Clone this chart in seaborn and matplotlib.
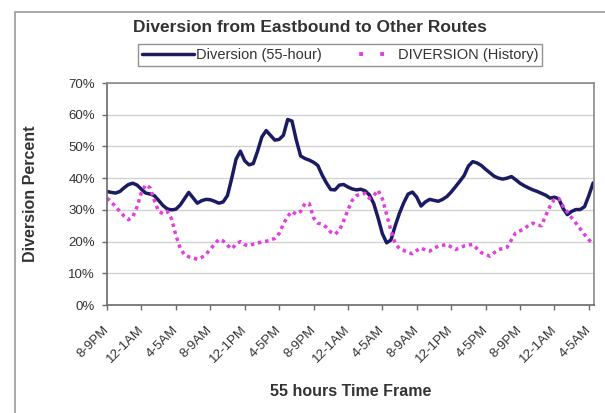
import numpy as np
import pandas as pd
import seaborn as sns
import matplotlib
matplotlib.use("Agg")
import matplotlib.pyplot as plt
from matplotlib.patches import Rectangle
from matplotlib.ticker import FuncFormatter
from matplotlib.transforms import ScaledTranslation

# Half-hourly diversion percentages over the 55-hour window (starting 8-9PM)
diversion_55h = [
    35.8, 35.5, 35.3, 35.8, 37.0, 38.0, 38.4, 37.8, 36.5, 35.3,
    35.0, 34.5, 33.0, 31.4, 30.3, 30.0, 30.2, 31.5, 33.5, 35.5,
    33.8, 32.1, 32.9, 33.3, 33.2, 32.7, 32.1, 32.5, 34.5, 40.0,
    46.0, 48.5, 45.5, 44.2, 44.6, 48.5, 53.0, 55.0, 53.5, 52.0,
    52.2, 53.5, 58.5, 58.0, 52.0, 47.0, 46.2, 45.7, 45.0, 44.0,
    41.0, 38.5, 36.4, 36.3, 37.8, 38.0, 37.2, 36.6, 36.3, 36.5,
    36.0, 34.7, 32.0, 27.5, 22.5, 19.6, 20.5, 25.0, 29.0, 32.3,
    35.0, 35.6, 34.0, 31.2, 32.5, 33.3, 33.0, 32.7, 33.3, 34.2,
    35.6, 37.3, 39.0, 40.8, 43.8, 45.2, 44.8, 44.0, 42.8, 41.7,
    40.6, 40.0, 39.7, 40.0, 40.5, 39.5, 38.4, 37.6, 36.9, 36.3,
    35.8, 35.2, 34.6, 33.7, 34.0, 33.5, 30.5, 28.5, 29.5, 30.1,
    30.1, 31.0, 34.5, 38.5,
]

diversion_history = [
    33.7, 32.5, 31.0, 29.5, 28.0, 26.9, 27.8, 31.0, 35.5, 37.9,
    37.0, 33.0, 29.5, 28.8, 29.5, 27.2, 22.0, 18.0, 15.8, 15.2,
    14.8, 14.4, 15.0, 16.0, 17.5, 19.2, 20.7, 20.2, 18.8, 17.7,
    19.2, 20.0, 19.0, 18.7, 19.2, 19.6, 19.8, 20.1, 20.5, 21.0,
    22.5, 25.5, 28.0, 29.5, 28.6, 29.5, 32.0, 32.0, 27.5, 25.8,
    25.5, 24.5, 23.0, 22.3, 23.5, 26.5, 30.0, 33.0, 34.5, 35.0,
    35.2, 33.6, 34.5, 36.2, 33.5, 28.5, 23.5, 19.3, 17.8, 17.2,
    16.5, 16.2, 17.2, 18.0, 17.3, 17.0, 17.8, 18.6, 18.8, 19.1,
    18.3, 17.5, 18.0, 18.6, 18.9, 19.1, 17.8, 16.5, 16.0, 15.4,
    16.5, 17.5, 17.8, 18.2, 20.5, 22.8, 23.4, 24.0, 25.2, 25.8,
    25.2, 25.0, 28.3, 31.2, 33.3, 33.6, 31.2, 29.3, 27.5, 25.8,
    24.0, 22.2, 20.6, 19.0,
]

hours = np.arange(len(diversion_55h)) * 0.5

tick_labels = [
    "8-9PM", "12-1AM", "4-5AM", "8-9AM", "12-1PM", "4-5PM", "8-9PM",
    "12-1AM", "4-5AM", "8-9AM", "12-1PM", "4-5PM", "8-9PM", "12-1AM", "4-5AM",
]
tick_hours = np.arange(len(tick_labels)) * 4

series_names = ["Diversion (55-hour)", "DIVERSION (History)"]

df = pd.DataFrame({
    "hour": np.concatenate([hours, hours]),
    "pct": np.concatenate([diversion_55h, diversion_history]),
    "series": [series_names[0]] * len(hours) + [series_names[1]] * len(hours),
})

sns.set_theme(style="white")
plt.rcParams["font.family"] = ["Liberation Sans", "DejaVu Sans"]

W, H = 605, 413
fig = plt.figure(figsize=(W / 100, H / 100), dpi=100)
fig.patch.set_facecolor("white")
ax = fig.add_axes([107 / W, (H - 305) / H, 487 / W, 222 / H])

navy = "#1b1b63"
magenta = "#e23ee2"
text_col = "#333333"

sns.lineplot(
    data=df, x="hour", y="pct", hue="series", style="series",
    hue_order=series_names, style_order=series_names,
    palette=[navy, magenta], dashes=[(None, None), (1, 1.1)],
    linewidth=2.5, ax=ax, legend=False,
)

ax.set_xlim(0, 56.6)
ax.set_ylim(0, 70)
ax.set_yticks(np.arange(0, 71, 10))
ax.yaxis.set_major_formatter(FuncFormatter(lambda v, _: f"{int(v)}%"))
ax.set_xticks(tick_hours)
ax.set_xticklabels(tick_labels, rotation=45, ha="right", rotation_mode="anchor")

ax.grid(axis="y", color="#cfcfcf", linewidth=0.9)
ax.set_axisbelow(True)
for side in ["top", "right", "left", "bottom"]:
    ax.spines[side].set_visible(True)
    ax.spines[side].set_color("#8a8a8a")
    ax.spines[side].set_linewidth(1.2)
ax.spines["left"].set_color("#6a6a6a")
ax.spines["bottom"].set_color("#6a6a6a")

ax.tick_params(axis="both", which="major", direction="out", length=3.5,
               width=1, color="#6a6a6a", labelsize=9.5, labelcolor=text_col,
               bottom=True, left=True)
ax.tick_params(axis="y", pad=5)
ax.tick_params(axis="x", pad=10)

# nudge the slanted hour labels a little to the left of their ticks
shift = ScaledTranslation(-4 / 100, 0, fig.dpi_scale_trans)
for lab in ax.get_xticklabels():
    lab.set_transform(lab.get_transform() + shift)

ax.set_xlabel("55 hours Time Frame", fontsize=11.5, fontweight="bold", color=text_col)
ax.set_ylabel("Diversion Percent", fontsize=11.5, fontweight="bold", color=text_col)
ax.xaxis.set_label_coords(0.5, -0.355)
ax.yaxis.set_label_coords(-0.142, 0.5)

fig.text(310 / W, 1 - 28 / H, "Diversion from Eastbound to Other Routes",
         ha="center", va="center", fontsize=12.5, fontweight="bold", color=text_col)

handles = [
    plt.Line2D([], [], color=navy, lw=2.5),
    plt.Line2D([], [], color=magenta, lw=2.8, linestyle=(1.5, (1, 4.4))),
]
leg = fig.legend(handles, series_names, loc="center", ncol=2,
                 bbox_to_anchor=(340 / W, 1 - 55 / H), frameon=True,
                 fontsize=10.5, handlelength=3.6, handletextpad=0.1,
                 columnspacing=1.5, borderpad=0.3, fancybox=False)
leg.get_frame().set_edgecolor("#777777")
leg.get_frame().set_linewidth(1.0)
for t in leg.get_texts():
    t.set_color(text_col)

# outer chart frame
fig.patches.append(Rectangle((15 / W, -0.02), 1.0, 1 - 12 / H + 0.02,
                             transform=fig.transFigure, fill=False,
                             edgecolor="#9a9a9a", linewidth=1.2))

fig.savefig("out.png", dpi=100, facecolor="white")
